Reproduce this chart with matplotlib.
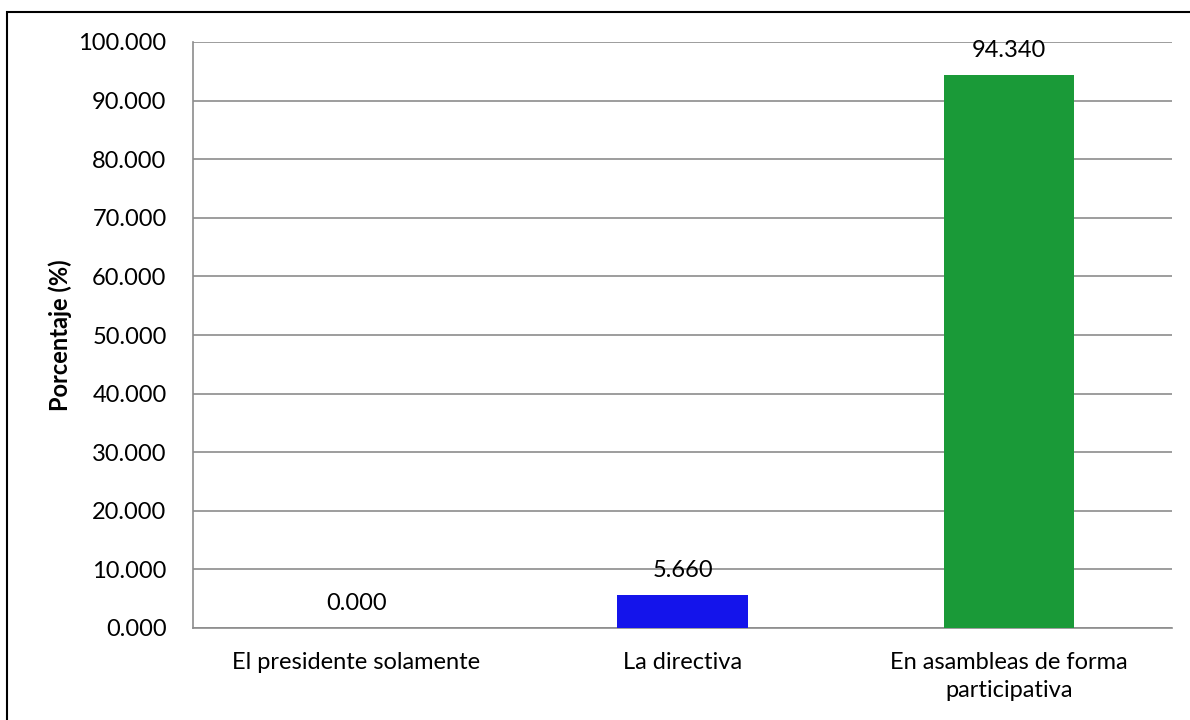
import matplotlib.pyplot as plt
from matplotlib.patches import Rectangle

# data
categories = ["El presidente solamente", "La directiva", "En asambleas de forma\nparticipativa"]
values = [0.000, 5.660, 94.340]
bar_colors = ["#1414EB", "#1414EB", "#1A9A38"]
y_ticks = [0, 10, 20, 30, 40, 50, 60, 70, 80, 90, 100]

plt.rcParams['font.family'] = ['Lato', 'DejaVu Sans']
fs = 17

fig = plt.figure(figsize=(11.9, 7.2), dpi=100)
ax = fig.add_axes([193 / 1190, 1 - 628 / 720, (1172 - 193) / 1190, (628 - 42) / 720])

x = range(len(categories))
bars = ax.bar(x, values, width=0.4, color=bar_colors, zorder=3)

for b, v in zip(bars, values):
    ax.annotate(f"{v:.3f}", (b.get_x() + b.get_width() / 2, v),
                xytext=(0, 10), textcoords="offset points",
                ha="center", va="bottom", fontsize=fs, color="#000000")

ax.set_xlim(-0.5, len(categories) - 0.5)
ax.set_ylim(0, 100)
ax.set_yticks(y_ticks)
ax.set_yticklabels([f"{t:.3f}" for t in y_ticks], fontsize=fs)
ax.set_xticks(list(x))
ax.set_xticklabels(categories, fontsize=fs, linespacing=1.45)
ax.tick_params(axis="y", length=0, pad=19)
ax.tick_params(axis="x", length=0, pad=17)

ax.yaxis.grid(True, color="#8C8C8C", linewidth=1.2, zorder=0)
for s in ["top", "right"]:
    ax.spines[s].set_visible(False)
for s in ["left", "bottom"]:
    ax.spines[s].set_color("#8C8C8C")
    ax.spines[s].set_linewidth(1.2)

ax.set_ylabel("Porcentaje (%)", fontsize=fs, fontweight="bold", labelpad=5)

# outer chart frame (only top/left show in the crop)
fig.patches.append(Rectangle((7 / 1190, -0.1), 1.2, 1 - 12 / 720 + 0.1,
                             transform=fig.transFigure, fill=False,
                             edgecolor="black", linewidth=1.5))

fig.savefig("out.png", dpi=100)
